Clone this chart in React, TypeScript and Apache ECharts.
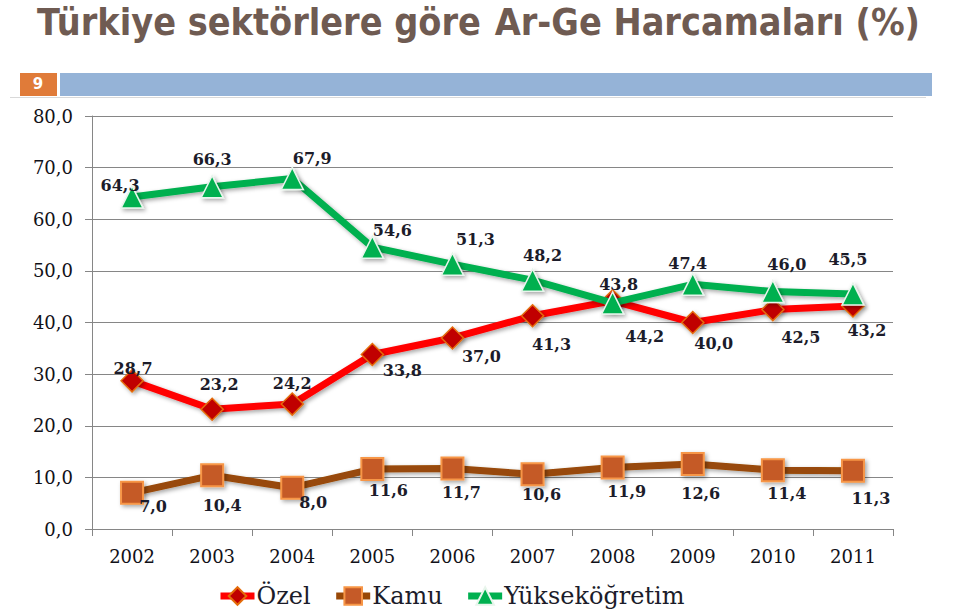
import React, { useEffect, useRef } from "react";
import * as echarts from "echarts";

const years = ["2002", "2003", "2004", "2005", "2006", "2007", "2008", "2009", "2010", "2011"];
const ozel = [28.7, 23.2, 24.2, 33.8, 37.0, 41.3, 44.2, 40.0, 42.5, 43.2];
const kamu = [7.0, 10.4, 8.0, 11.6, 11.7, 10.6, 11.9, 12.6, 11.4, 11.3];
const yuksek = [64.3, 66.3, 67.9, 54.6, 51.3, 48.2, 43.8, 47.4, 46.0, 45.5];
const seriesNames = ["Özel", "Kamu", "Yükseköğretim"];
const titleStart = "Türkiye sektörlere göre";
const titleEnd = "Ar-Ge Harcamaları (%)";
const slideNumber = "9";

// label offsets (pixels, relative to each point)
const ozelOff = [[1, -12], [7, -25], [0, -21], [30, 16], [29, 19], [19, 29], [32, 36], [21, 21], [28, 28], [14, 25]];
const kamuOff = [[21, 14], [10, 30], [21, 15], [16, 21], [9, 24], [9, 20], [14, 24], [8, 30], [14, 23], [18, 28]];
const yuksekOff = [[-12, -12], [0, -27], [20, -20], [20, -17], [23, -25], [10, -25], [6, -18], [-5, -21], [14, -27], [-5, -35]];

const fmt = (v: number) => v.toFixed(1).replace(".", ",");

export default function App() {
  const ref = useRef<HTMLDivElement>(null);
  useEffect(() => {
    if (!ref.current) return;
    const chart = echarts.init(ref.current, undefined, { renderer: "svg" });
    const labelFont = { fontFamily: "DejaVu Serif", fontWeight: "bold" as const, fontSize: 16, color: "#1c1c2a" };
    const mkData = (vals: number[], offs: number[][]) =>
      vals.map((v, i) => ({
        value: v,
        label: { show: true, position: "inside", offset: offs[i], formatter: () => fmt(v), ...labelFont },
      }));
    const shadow = { shadowColor: "rgba(0,0,0,0.35)", shadowBlur: 4, shadowOffsetX: 2, shadowOffsetY: 2 };
    const titleFont = "bold 37px 'DejaVu Sans'";
    chart.setOption({
      animation: false,
      backgroundColor: "#ffffff",
      grid: { left: 92, right: 67, top: 116, bottom: 86, containLabel: false },
      graphic: [
        {
          type: "text",
          x: 37,
          y: 3,
          scaleX: 0.91,
          style: { text: titleStart, font: titleFont, fill: "#6f5b52", textAlign: "left", textVerticalAlign: "top" },
        },
        {
          type: "text",
          x: 920,
          y: 3,
          scaleX: 0.91,
          style: { text: titleEnd, font: titleFont, fill: "#6f5b52", textAlign: "right", textVerticalAlign: "top" },
        },
        { type: "rect", shape: { x: 20, y: 73, width: 37, height: 23 }, style: { fill: "#e07b39" } },
        {
          type: "text",
          x: 38,
          y: 84,
          style: { text: slideNumber, font: "bold 15px 'DejaVu Sans'", fill: "#ffffff", textAlign: "center", textVerticalAlign: "middle" },
        },
        { type: "rect", shape: { x: 60, y: 73, width: 872, height: 23 }, style: { fill: "#95b3d7" } },
        { type: "line", shape: { x1: 10, y1: 97.5, x2: 926, y2: 97.5 }, style: { stroke: "#d9d9d9", lineWidth: 1 } },
      ],
      legend: {
        bottom: 2,
        left: 212,
        itemWidth: 34,
        itemHeight: 22,
        itemGap: 22,
        lineStyle: { width: 7 },
        textStyle: { fontFamily: "DejaVu Serif", fontSize: 24, color: "#1c1c2a", padding: [0, 0, 0, -3] },
        data: seriesNames,
      },
      xAxis: {
        type: "category",
        data: years,
        boundaryGap: true,
        axisLine: { lineStyle: { color: "#868686", width: 1 } },
        axisTick: { show: true, length: 7, alignWithLabel: false, lineStyle: { color: "#868686" } },
        axisLabel: { margin: 18, fontFamily: "DejaVu Serif", fontSize: 18, color: "#111118" },
      },
      yAxis: {
        type: "value",
        min: 0,
        max: 80,
        interval: 10,
        axisLine: { show: true, lineStyle: { color: "#868686" } },
        axisTick: { show: true, length: 7, lineStyle: { color: "#868686" } },
        splitLine: { lineStyle: { color: "#868686", width: 1 } },
        axisLabel: { margin: 19, fontFamily: "DejaVu Serif", fontSize: 18, color: "#111118", formatter: (v: number) => fmt(v) },
      },
      series: [
        {
          name: seriesNames[0],
          type: "line",
          data: mkData(ozel, ozelOff),
          symbol: "diamond",
          symbolSize: 22,
          lineStyle: { color: "#ff0000", width: 7, ...shadow },
          itemStyle: { color: "#c00000", borderColor: "#e46c0a", borderWidth: 1.5, ...shadow },
          z: 3,
        },
        {
          name: seriesNames[1],
          type: "line",
          data: mkData(kamu, kamuOff),
          symbol: "rect",
          symbolSize: 22,
          lineStyle: { color: "#984807", width: 7, ...shadow },
          itemStyle: { color: "#c55a28", borderColor: "#f79646", borderWidth: 2, ...shadow },
          z: 2,
        },
        {
          name: seriesNames[2],
          type: "line",
          data: mkData(yuksek, yuksekOff),
          symbol: "triangle",
          symbolSize: 22,
          lineStyle: { color: "#00b050", width: 7, ...shadow },
          itemStyle: { color: "#00b050", borderColor: "#e8f5ec", borderWidth: 1.5, ...shadow },
          z: 4,
        },
      ],
    });
    return () => chart.dispose();
  }, []);
  return (
    <div
      ref={ref}
      style={{ position: "fixed", left: 0, top: 0, width: 960, height: 615, background: "#fff" }}
    />
  );
}
